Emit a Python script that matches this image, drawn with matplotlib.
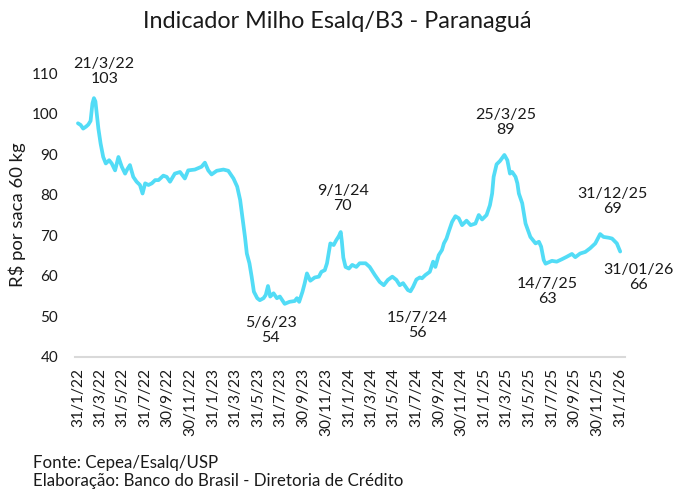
import matplotlib
matplotlib.use("Agg")
import matplotlib.pyplot as plt
import pandas as pd

plt.rcParams['font.family'] = ['Lato', 'DejaVu Sans']

# ---- data ----
dates = [
    "2022-01-31", "2022-02-07", "2022-02-14", "2022-02-22", "2022-02-28", "2022-03-06",
    "2022-03-11", "2022-03-15", "2022-03-19", "2022-03-22", "2022-03-27", "2022-04-02",
    "2022-04-09", "2022-04-16", "2022-04-25", "2022-05-02", "2022-05-11", "2022-05-20",
    "2022-05-29", "2022-06-07", "2022-06-13", "2022-06-20", "2022-06-29", "2022-07-08",
    "2022-07-17", "2022-07-24", "2022-07-31", "2022-08-09", "2022-08-18", "2022-08-27",
    "2022-09-05", "2022-09-18", "2022-09-27", "2022-10-06", "2022-10-19", "2022-11-02",
    "2022-11-15", "2022-11-24", "2022-12-12", "2022-12-30", "2023-01-08", "2023-01-17",
    "2023-01-26", "2023-02-09", "2023-02-27", "2023-03-12", "2023-03-26", "2023-04-05",
    "2023-04-13", "2023-04-20", "2023-04-26", "2023-05-01", "2023-05-08", "2023-05-14",
    "2023-05-20", "2023-05-29", "2023-06-05", "2023-06-15", "2023-06-21", "2023-06-27",
    "2023-07-03", "2023-07-12", "2023-07-21", "2023-07-29", "2023-08-06", "2023-08-11",
    "2023-08-24", "2023-09-07", "2023-09-13", "2023-09-19", "2023-09-28", "2023-10-04",
    "2023-10-10", "2023-10-19", "2023-10-31", "2023-11-11", "2023-11-18", "2023-11-27",
    "2023-12-03", "2023-12-12", "2023-12-21", "2023-12-28", "2024-01-04", "2024-01-09",
    "2024-01-12", "2024-01-16", "2024-01-22", "2024-01-31", "2024-02-09", "2024-02-20",
    "2024-02-29", "2024-03-16", "2024-03-27", "2024-04-10", "2024-04-23", "2024-05-04",
    "2024-05-15", "2024-05-27", "2024-06-07", "2024-06-16", "2024-06-25", "2024-07-08",
    "2024-07-15", "2024-07-22", "2024-07-31", "2024-08-09", "2024-08-15", "2024-08-24",
    "2024-09-05", "2024-09-14", "2024-09-20", "2024-09-29", "2024-10-08", "2024-10-13",
    "2024-10-20", "2024-10-26", "2024-11-04", "2024-11-13", "2024-11-22", "2024-12-01",
    "2024-12-13", "2024-12-24", "2025-01-06", "2025-01-15", "2025-01-24", "2025-02-05",
    "2025-02-14", "2025-02-20", "2025-02-24", "2025-03-04", "2025-03-13", "2025-03-25",
    "2025-04-02", "2025-04-09", "2025-04-15", "2025-04-24", "2025-04-29", "2025-05-03",
    "2025-05-12", "2025-05-21", "2025-06-03", "2025-06-17", "2025-06-26", "2025-07-02",
    "2025-07-09", "2025-07-14", "2025-07-31", "2025-08-13", "2025-08-27", "2025-09-09",
    "2025-09-23", "2025-10-02", "2025-10-15", "2025-10-29", "2025-11-11", "2025-11-25",
    "2025-12-08", "2025-12-17", "2025-12-31", "2026-01-09", "2026-01-22", "2026-01-31",
]
prices = [
    97.6, 97.2, 96.3, 96.8, 97.3, 98.2,
    102.5, 103.8, 103.0, 100.5, 96.3, 92.6,
    89.3, 87.7, 88.5, 87.7, 86.0, 89.3,
    86.9, 85.2, 86.3, 87.3, 84.4, 83.2,
    82.4, 80.3, 82.8, 82.4, 82.8, 83.6,
    83.6, 84.7, 84.4, 83.2, 85.2, 85.6,
    84.0, 86.0, 86.2, 86.9, 87.9, 86.0,
    85.0, 85.9, 86.2, 85.9, 84.0, 82.0,
    78.7, 73.7, 69.6, 65.5, 63.1, 59.8,
    56.1, 54.5, 54.0, 54.5, 55.3, 57.5,
    54.9, 55.7, 54.5, 54.9, 53.8, 53.1,
    53.6, 53.8, 54.5, 53.6, 56.1, 58.2,
    60.6, 58.8, 59.6, 59.8, 61.0, 61.4,
    63.1, 68.0, 67.6, 68.8, 69.8, 70.8,
    68.5, 64.5, 62.2, 61.8, 62.7, 62.2,
    63.1, 63.1, 62.2, 60.2, 58.5, 57.7,
    59.0, 59.8, 59.0, 57.7, 58.2, 56.5,
    56.2, 57.3, 59.1, 59.6, 59.4, 60.2,
    61.0, 63.5, 62.2, 65.1, 66.4, 68.0,
    69.2, 70.9, 73.3, 74.7, 74.2, 72.5,
    73.6, 72.5, 72.9, 75.0, 73.9, 75.0,
    77.4, 80.3, 84.4, 87.5, 88.3, 89.8,
    88.5, 85.2, 85.6, 84.4, 82.8, 80.3,
    77.9, 72.9, 69.6, 68.0, 68.4, 67.2,
    63.9, 63.0, 63.7, 63.5, 64.1, 64.7,
    65.4, 64.6, 65.5, 65.9, 66.8, 68.0,
    70.3, 69.6, 69.4, 69.2, 68.0, 66.0,
]

tick_dates = [
    "2022-01-31", "2022-03-31", "2022-05-31", "2022-07-31", "2022-09-30", "2022-11-30",
    "2023-01-31", "2023-03-31", "2023-05-31", "2023-07-31", "2023-09-30", "2023-11-30",
    "2024-01-31", "2024-03-31", "2024-05-31", "2024-07-31", "2024-09-30", "2024-11-30",
    "2025-01-31", "2025-03-31", "2025-05-31", "2025-07-31", "2025-09-30", "2025-11-30",
    "2026-01-31",
]
tick_labels = [
    "31/1/22", "31/3/22", "31/5/22", "31/7/22", "30/9/22", "30/11/22",
    "31/1/23", "31/3/23", "31/5/23", "31/7/23", "30/9/23", "30/11/23",
    "31/1/24", "31/3/24", "31/5/24", "31/7/24", "30/9/24", "30/11/24",
    "31/1/25", "31/3/25", "31/5/25", "31/7/25", "30/9/25", "30/11/25",
    "31/1/26",
]

ann_dates = ["2022-03-21", "2023-06-05", "2024-01-09", "2024-07-15",
             "2025-03-25", "2025-07-14", "2025-12-31", "2026-01-31"]
ann_date_labels = ["21/3/22", "5/6/23", "9/1/24", "15/7/24",
                   "25/3/25", "14/7/25", "31/12/25", "31/01/26"]
ann_values = [103, 54, 70, 56, 89, 63, 69, 66]
# text offsets in pixels (layout only)
ann_offsets = [(8, 30), (11, -30), (2, 37), (7, -33), (1, 36), (2, -28), (4, 38), (18, -26)]

# ---- figure ----
fig = plt.figure(figsize=(6.73, 4.90), dpi=100)
ax = fig.add_axes([75/673, 1 - 357/490, 550/673, (357 - 73)/490])

x = pd.to_datetime(dates)
ax.plot(x, prices, color="#52dcf6", lw=2.7, solid_capstyle="round", solid_joinstyle="round")

ax.set_ylim(40, 110)
ax.set_yticks(range(40, 111, 10))
ax.set_xlim(pd.Timestamp("2022-01-23"), pd.Timestamp("2026-02-13"))
ax.set_xticks(pd.to_datetime(tick_dates))
ax.set_xticklabels(tick_labels, rotation=90, fontsize=11.2, color="#1a1a1a")
ax.tick_params(axis="both", length=0)
ax.tick_params(axis="y", labelsize=11, labelcolor="#1a1a1a", pad=12)
ax.tick_params(axis="x", pad=8)

for s in ["top", "right", "left"]:
    ax.spines[s].set_visible(False)
ax.spines["bottom"].set_color("#d9d9d9")
ax.spines["bottom"].set_linewidth(1.5)

ax.set_ylabel("R$ por saca 60 kg", fontsize=13.3, color="#1a1a1a", labelpad=4)

for d, dl, v, (dx, dy) in zip(ann_dates, ann_date_labels, ann_values, ann_offsets):
    ax.annotate(f"{dl}\n{v}", xy=(pd.Timestamp(d), v), xytext=(dx, dy),
                textcoords="offset pixels", ha="center", va="center",
                fontsize=11.5, color="#1a1a1a", linespacing=1.1)

fig.text(0.5 * (143 + 532) / 673, 1 - 22/490, "Indicador Milho Esalq/B3 - Paranaguá",
         ha="center", va="center", fontsize=16.8, color="#1a1a1a")
fig.text(33/673, 1 - 463/490, "Fonte: Cepea/Esalq/USP", ha="left", va="center",
         fontsize=12.2, color="#1a1a1a")
fig.text(33/673, 1 - 481/490, "Elaboração: Banco do Brasil - Diretoria de Crédito",
         ha="left", va="center", fontsize=12.2, color="#1a1a1a")

fig.savefig("out.png", dpi=100, facecolor="white")
